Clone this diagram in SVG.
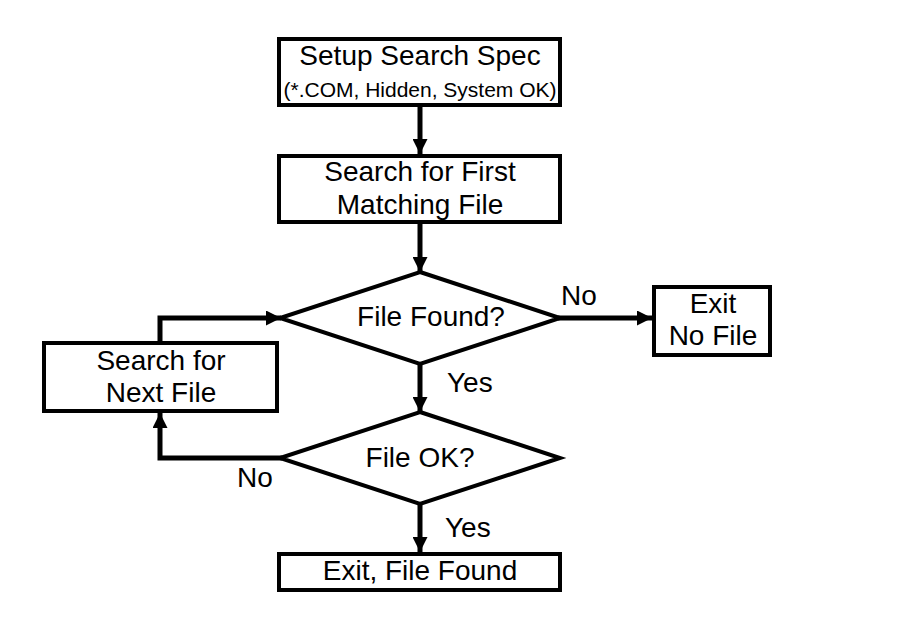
<svg xmlns="http://www.w3.org/2000/svg" width="899" height="617" viewBox="0 0 899 617">
  <defs>
    <marker id="arr" viewBox="0 0 15 15" refX="15" refY="7.5" markerWidth="15" markerHeight="15" markerUnits="userSpaceOnUse" orient="auto">
      <path d="M0,0 L15,7.5 L0,15 Z" fill="#000"/>
    </marker>
    <style>
      .box { fill: #fff; stroke: #000; stroke-width: 4; }
      .t { font-family: "Liberation Sans", Arial, sans-serif; font-size: 28px; fill: #000; text-anchor: middle; }
      .s { font-size: 21px; }
      .lbl { font-family: "Liberation Sans", Arial, sans-serif; font-size: 28px; fill: #000; }
      .c { fill: none; stroke: #000; stroke-width: 5; marker-end: url(#arr); }
    </style>
  </defs>
  <rect width="899" height="617" fill="#fff"/>
  <g id="connectors">
    <path class="c" d="M420,105 V154"/>
    <path class="c" d="M420,222 V272"/>
    <path class="c" d="M420,364 V412"/>
    <path class="c" d="M420,504 V552"/>
    <path class="c" d="M558,318 H652"/>
    <path class="c" d="M282,458 H160 V413"/>
    <path class="c" d="M160,343 V318 H281"/>
  </g>
  <g id="setup">
    <rect class="box" x="279" y="39" width="281" height="66"/>
    <text class="t" x="420" y="65">Setup Search Spec</text>
    <text class="t s" x="420" y="97">(*.COM, Hidden, System OK)</text>
  </g>
  <g id="searchFirst">
    <rect class="box" x="279" y="156" width="281" height="66"/>
    <text class="t" x="420" y="181">Search for First</text>
    <text class="t" x="420" y="214">Matching File</text>
  </g>
  <g id="fileFound">
    <polygon class="box" points="420,272 560,318 420,364 280,318"/>
    <text class="t" x="431" y="326">File Found?</text>
  </g>
  <g id="exitNoFile">
    <rect class="box" x="654" y="287" width="116" height="68"/>
    <text class="t" x="713" y="313">Exit</text>
    <text class="t" x="713" y="345">No File</text>
  </g>
  <g id="searchNext">
    <rect class="box" x="44" y="343" width="233" height="68"/>
    <text class="t" x="161" y="370">Search for</text>
    <text class="t" x="161" y="402">Next File</text>
  </g>
  <g id="fileOK">
    <polygon class="box" points="420,412 560,458 420,504 280,458"/>
    <text class="t" x="420" y="467">File OK?</text>
  </g>
  <g id="exitFound">
    <rect class="box" x="279" y="554" width="281" height="36"/>
    <text class="t" x="420" y="580">Exit, File Found</text>
  </g>
  <g id="labels">
    <text class="lbl" x="561" y="305">No</text>
    <text class="lbl" x="447" y="392">Yes</text>
    <text class="lbl" x="237" y="487">No</text>
    <text class="lbl" x="445" y="537">Yes</text>
  </g>
</svg>
